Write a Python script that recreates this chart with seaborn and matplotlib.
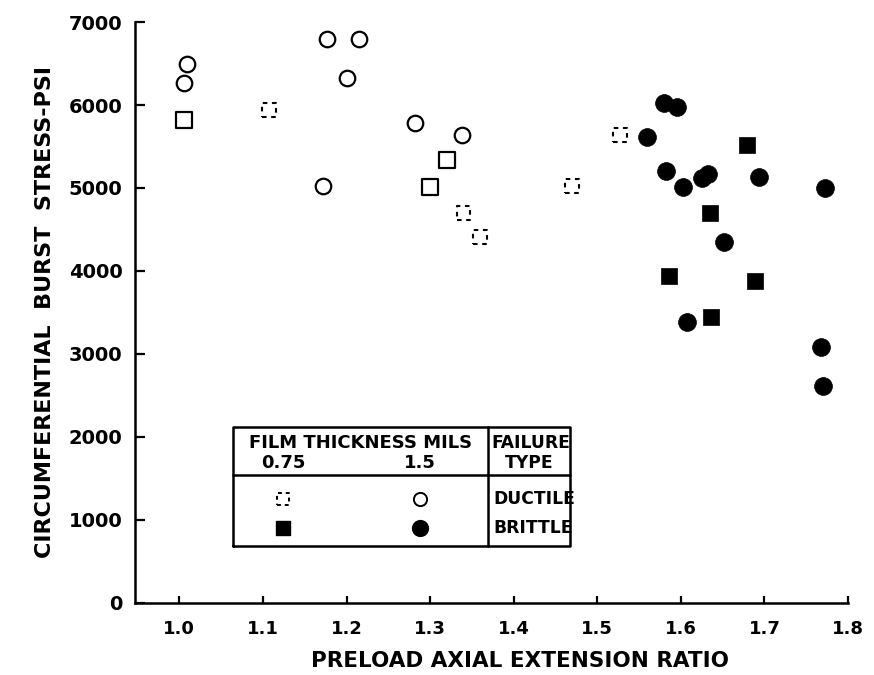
import pandas as pd
import matplotlib
matplotlib.use("Agg")
import matplotlib.pyplot as plt
import seaborn as sns

# Datos
# 0.75 mils, falla ductil (cuadros huecos); los ultimos salen cortados en el escaneo
ductile_075_x = [1.005, 1.30, 1.32, 1.107, 1.34, 1.36, 1.47, 1.527]
ductile_075_y = [5820, 5015, 5340, 5940, 4700, 4410, 5020, 5640]
ductile_075_broken = [False, False, False, True, True, True, True, True]

# 1.5 mils, falla ductil (circulos huecos)
ductile_15_x = [1.009, 1.005, 1.177, 1.215, 1.20, 1.282, 1.338, 1.172]
ductile_15_y = [6500, 6260, 6800, 6800, 6320, 5780, 5640, 5020]

# 0.75 mils, falla fragil (cuadros llenos)
brittle_075_x = [1.679, 1.635, 1.586, 1.689, 1.636]
brittle_075_y = [5520, 4700, 3940, 3880, 3450]

# 1.5 mils, falla fragil (circulos llenos)
brittle_15_x = [1.580, 1.595, 1.559, 1.582, 1.602, 1.625, 1.633, 1.694,
                1.772, 1.652, 1.607, 1.768, 1.770]
brittle_15_y = [6020, 5980, 5610, 5200, 5015, 5120, 5165, 5135,
                5000, 4355, 3380, 3090, 2615]

x_ticks = [1.0, 1.1, 1.2, 1.3, 1.4, 1.5, 1.6, 1.7, 1.8]
x_tick_labels = ["1.0", "1.1", "1.2", "1.3", "1.4", "1.5", "1.6", "1.7", "1.8"]
y_ticks = [0, 1000, 2000, 3000, 4000, 5000, 6000, 7000]
y_tick_labels = ["0", "1000", "2000", "3000", "4000", "5000", "6000", "7000"]

sns.set_style("ticks", {"axes.edgecolor": "black", "text.color": "black",
                        "xtick.color": "black", "ytick.color": "black",
                        "axes.labelcolor": "black"})
plt.rcParams["font.family"] = ["DejaVu Sans"]
plt.rcParams["font.weight"] = "bold"

df_d075 = pd.DataFrame({"x": ductile_075_x, "y": ductile_075_y, "broken": ductile_075_broken})
df_d15 = pd.DataFrame({"x": ductile_15_x, "y": ductile_15_y})
df_b075 = pd.DataFrame({"x": brittle_075_x, "y": brittle_075_y})
df_b15 = pd.DataFrame({"x": brittle_15_x, "y": brittle_15_y})

fig = plt.figure(figsize=(8.74, 6.75), dpi=100)
ax = fig.add_axes([0.1545, 0.1067, 0.8158, 0.8607])

sns.scatterplot(x="x", y="y", data=df_d075[~df_d075["broken"]], marker="s", s=120,
                facecolor="white", edgecolor="black", linewidth=1.6, ax=ax)
sns.scatterplot(x="x", y="y", data=df_d075[df_d075["broken"]], marker="s", s=100,
                facecolor="white", edgecolor="black", linewidth=1.5,
                linestyle=(0, (2.2, 2.2)), ax=ax)
sns.scatterplot(x="x", y="y", data=df_d15, marker="o", s=125,
                facecolor="white", edgecolor="black", linewidth=1.6, ax=ax)
sns.scatterplot(x="x", y="y", data=df_b075, marker="s", s=135,
                color="black", edgecolor="black", linewidth=0.5, ax=ax)
sns.scatterplot(x="x", y="y", data=df_b15, marker="o", s=165,
                color="black", edgecolor="black", linewidth=0.5, ax=ax)

ax.set_xlim(0.947, 1.8)
ax.set_ylim(0, 7000)
ax.set_xticks(x_ticks)
ax.set_xticklabels(x_tick_labels)
ax.set_yticks(y_ticks)
ax.set_yticklabels(y_tick_labels)
ax.tick_params(axis="y", direction="in", length=7, width=1.6, pad=9, labelsize=14)
ax.tick_params(axis="x", direction="in", length=5, width=1.6, pad=12, labelsize=13)
sns.despine(ax=ax)
for side in ["left", "bottom"]:
    ax.spines[side].set_linewidth(1.8)

ax.set_xlabel("PRELOAD AXIAL EXTENSION RATIO", fontsize=15.5, fontweight="bold")
ax.xaxis.set_label_coords(0.54, -0.083)
ax.set_ylabel("CIRCUMFERENTIAL  BURST  STRESS-PSI", fontsize=16, fontweight="bold", labelpad=10)

# Tabla de leyenda dibujada a mano
tr = ax.transAxes
left, right, mid, top, bottom, hline = 0.1374, 0.610, 0.495, 0.303, 0.098, 0.220
box_kw = dict(color="black", linewidth=1.8, transform=tr, clip_on=False)
ax.plot([left, right, right, left, left], [bottom, bottom, top, top, bottom], **box_kw)
ax.plot([mid, mid], [bottom, top], **box_kw)
ax.plot([left, right], [hline, hline], **box_kw)

txt_kw = dict(transform=tr, fontsize=13, fontweight="bold", va="center")
ax.text((left + mid) / 2, 0.275, "FILM THICKNESS MILS", ha="center", **txt_kw)
ax.text(0.2076, 0.241, "0.75", ha="center", **txt_kw)
ax.text(0.400, 0.241, "1.5", ha="center", **txt_kw)
side_kw = dict(txt_kw, fontsize=12.3)
ax.text((mid + right) / 2 + 0.003, 0.275, "FAILURE", ha="center", **side_kw)
ax.text((mid + right) / 2, 0.241, "TYPE", ha="center", **side_kw)
ax.text(mid + 0.008, 0.179, "DUCTILE", ha="left", **side_kw)
ax.text(mid + 0.008, 0.129, "BRITTLE", ha="left", **side_kw)

ax.scatter([0.2076], [0.179], marker="s", s=80, facecolor="white", edgecolor="black",
           linewidth=1.4, linestyle=(0, (2, 2)), transform=tr, clip_on=False)
ax.scatter([0.400], [0.179], marker="o", s=90, facecolor="white", edgecolor="black",
           linewidth=1.4, transform=tr, clip_on=False)
ax.scatter([0.2076], [0.129], marker="s", s=110, color="black", transform=tr, clip_on=False)
ax.scatter([0.400], [0.129], marker="o", s=130, color="black", transform=tr, clip_on=False)

plt.savefig("out.png", dpi=100)
